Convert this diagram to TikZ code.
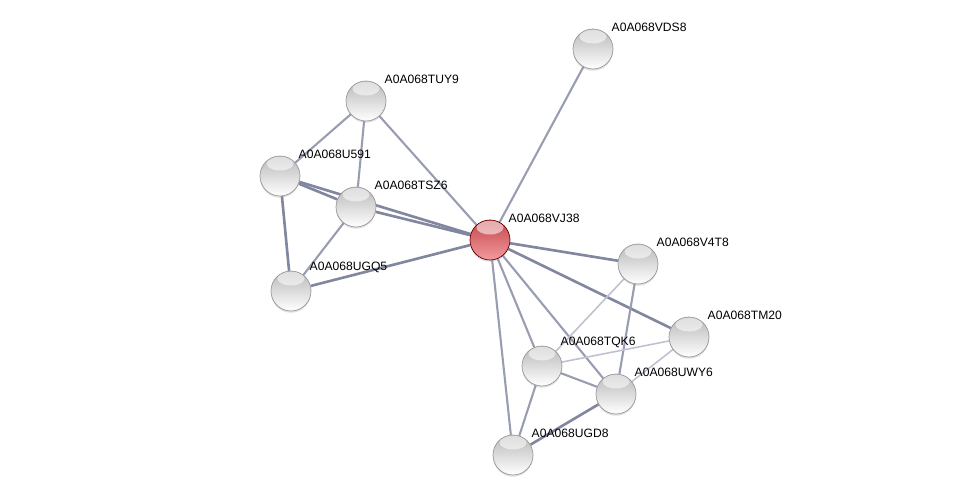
\documentclass[tikz,border=0pt]{standalone}
\usepackage{fontspec}
\setmainfont{Liberation Sans}
\usepackage{tikz}
\usetikzlibrary{shadows,backgrounds}

\definecolor{edgedark}{HTML}{8287A0}
\definecolor{edgemid}{HTML}{999DB2}
\definecolor{edgelight}{HTML}{BEC1D0}
\definecolor{balltop}{HTML}{B8B8B8}
\definecolor{redtop}{HTML}{C4474C}
\definecolor{redbottom}{HTML}{F29A9D}

\begin{document}
\begin{tikzpicture}[x=0.02cm, y=-0.02cm,
    every node/.style={font=\fontsize{6.9}{8}\selectfont},
    prot/.style={circle, minimum size=0.8cm, inner sep=0pt, draw=black!40, line width=0.4pt,
        top color=balltop, bottom color=white,
        path picture={\fill[white, opacity=0.55] ([yshift=-0.15cm]path picture bounding box.north) ellipse (0.27cm and 0.14cm);},
        drop shadow={opacity=0.25, shadow xshift=0pt, shadow yshift=-0.035cm}},
    query/.style={prot, draw=red!40!black, top color=redtop, bottom color=redbottom},
    lbl/.style={anchor=south west, inner sep=0pt, xshift=0.08cm, yshift=0.06cm},
    strong/.style={draw=edgedark, line width=1.5pt},
    mid/.style={draw=edgemid, line width=1.2pt},
    weak/.style={draw=edgelight, line width=0.9pt}
]
\useasboundingbox (0,0) rectangle (975,500);

% Nodes
\node[query] (vj38) at (490,240) [label={[lbl]45:A0A068VJ38}] {};
\node[prot] (vds8) at (593,49) [label={[lbl]45:A0A068VDS8}] {};
\node[prot] (tuy9) at (366,101) [label={[lbl]45:A0A068TUY9}] {};
\node[prot] (u591) at (280,176) [label={[lbl]45:A0A068U591}] {};
\node[prot] (tsz6) at (356,207) [label={[lbl]45:A0A068TSZ6}] {};
\node[prot] (ugq5) at (291,291) [label={[lbl]45:A0A068UGQ5}] {};
\node[prot] (v4t8) at (638,264) [label={[lbl]45:A0A068V4T8}] {};
\node[prot] (tm20) at (689,337) [label={[lbl]45:A0A068TM20}] {};
\node[prot] (tqk6) at (542,366) [label={[lbl]45:A0A068TQK6}] {};
\node[prot] (uwy6) at (616,394) [label={[lbl]45:A0A068UWY6}] {};
\node[prot] (ugd8) at (513,455) [label={[lbl]45:A0A068UGD8}] {};

% Edges
\begin{scope}[on background layer]
\draw[mid] (vj38) -- (vds8);
\draw[mid] (vj38) -- (tuy9);
\draw[strong] (vj38) -- (tsz6);
\draw[strong] (vj38) -- (u591);
\draw[strong] (vj38) -- (ugq5);
\draw[strong] (vj38) -- (v4t8);
\draw[strong] (vj38) -- (tm20);
\draw[mid] (vj38) -- (tqk6);
\draw[mid] (vj38) -- (uwy6);
\draw[mid] (vj38) -- (ugd8);
\draw[mid] (tuy9) -- (u591);
\draw[mid] (tuy9) -- (tsz6);
\draw[strong] (u591) -- (tsz6);
\draw[strong] (u591) -- (ugq5);
\draw[mid] (tsz6) -- (ugq5);
\draw[weak] (v4t8) -- (tqk6);
\draw[mid] (v4t8) -- (uwy6);
\draw[weak] (tm20) -- (tqk6);
\draw[weak] (tm20) -- (uwy6);
\draw[mid] (tqk6) -- (uwy6);
\draw[mid] (tqk6) -- (ugd8);
\draw[strong] (uwy6) -- (ugd8);
\end{scope}

\end{tikzpicture}
\end{document}
